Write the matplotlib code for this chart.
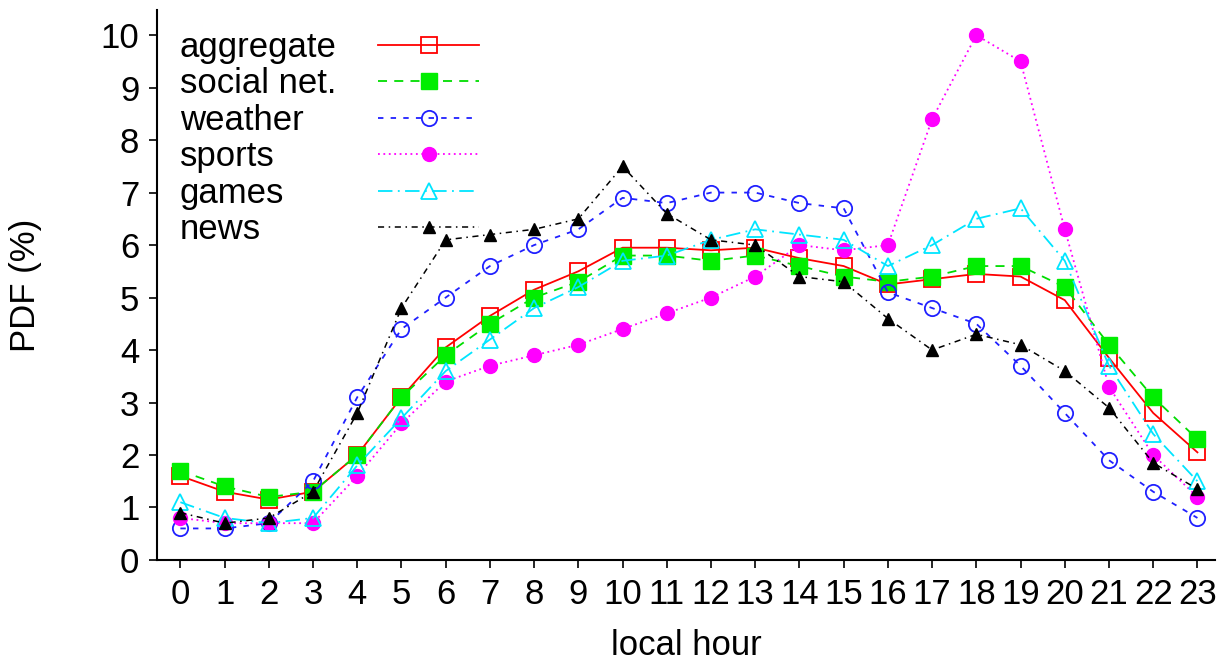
import matplotlib
matplotlib.use("Agg")
import matplotlib.pyplot as plt
from matplotlib.lines import Line2D

plt.rcParams["font.family"] = ["Liberation Sans", "DejaVu Sans"]

hours = list(range(24))
aggregate = [1.6, 1.3, 1.15, 1.3, 2.0, 3.1, 4.05, 4.65, 5.15, 5.5, 5.95, 5.95,
             5.9, 5.95, 5.75, 5.6, 5.25, 5.35, 5.45, 5.4, 4.95, 3.85, 2.8, 2.05]
social = [1.7, 1.4, 1.2, 1.3, 2.0, 3.1, 3.9, 4.5, 5.0, 5.3, 5.8, 5.8,
          5.7, 5.8, 5.6, 5.4, 5.3, 5.4, 5.6, 5.6, 5.2, 4.1, 3.1, 2.3]
weather = [0.6, 0.6, 0.7, 1.5, 3.1, 4.4, 5.0, 5.6, 6.0, 6.3, 6.9, 6.8,
           7.0, 7.0, 6.8, 6.7, 5.1, 4.8, 4.5, 3.7, 2.8, 1.9, 1.3, 0.8]
sports = [0.8, 0.7, 0.7, 0.7, 1.6, 2.6, 3.4, 3.7, 3.9, 4.1, 4.4, 4.7,
          5.0, 5.4, 6.0, 5.9, 6.0, 8.4, 10.0, 9.5, 6.3, 3.3, 2.0, 1.2]
games = [1.1, 0.8, 0.7, 0.8, 1.8, 2.7, 3.6, 4.2, 4.8, 5.2, 5.7, 5.8,
         6.1, 6.3, 6.2, 6.1, 5.6, 6.0, 6.5, 6.7, 5.7, 3.7, 2.4, 1.5]
news = [0.9, 0.7, 0.8, 1.3, 2.8, 4.8, 6.1, 6.2, 6.3, 6.5, 7.5, 6.6,
        6.1, 6.0, 5.4, 5.3, 4.6, 4.0, 4.3, 4.1, 3.6, 2.9, 1.85, 1.35]
labels = ["aggregate", "social net.", "weather", "sports", "games", "news"]

FS = 25

fig = plt.figure(figsize=(12.2, 6.65), dpi=100)
ax = fig.add_axes([0.129, 0.158, 0.867, 0.827])

lines = []
lines += ax.plot(hours, aggregate, color="#ff0000", ls="-", lw=1.3, marker="s", ms=11,
                 mfc="none", mec="#ff0000", mew=1.3)
lines += ax.plot(hours, social, color="#00dd00", ls=(0, (5, 4)), lw=1.3, marker="s", ms=11,
                 mfc="#00ee00", mec="#00ee00")
lines += ax.plot(hours, weather, color="#2020ff", ls=(0, (3, 4)), lw=1.3, marker="o", ms=11,
                 mfc="none", mec="#2020ff", mew=1.3)
lines += ax.plot(hours, sports, color="#ff00ff", ls=(0, (1, 2)), lw=1.3, marker="o", ms=10,
                 mfc="#ff00ff", mec="#ff00ff")
lines += ax.plot(hours, games, color="#00e5ff", ls=(0, (8, 3, 1, 3)), lw=1.3, marker="^", ms=11,
                 mfc="none", mec="#00e5ff", mew=1.3)
lines += ax.plot(hours, news, color="black", ls=(0, (4, 3, 1, 3)), lw=1.1, marker="^", ms=9,
                 mfc="black", mec="black")

ax.set_xlim(-0.52, 23.4)
ax.set_ylim(0, 10.48)
ax.set_xticks(hours)
ax.set_yticks(range(11))
ax.tick_params(labelsize=FS, width=1.2, length=6, direction="out", pad=7)
ax.spines["top"].set_visible(False)
ax.spines["right"].set_visible(False)
ax.spines["left"].set_linewidth(1.5)
ax.spines["bottom"].set_linewidth(1.5)
ax.set_xlabel("local hour", fontsize=FS, labelpad=13)
ax.set_ylabel("PDF (%)", fontsize=FS, labelpad=42)

# legend: labels on the left, samples in a column to the right
blank = [Line2D([], [], ls="none", marker="") for _ in labels]
leg_txt = ax.legend(blank, labels, loc="upper left", bbox_to_anchor=(0.021, 0.962),
                    frameon=False, fontsize=FS, handlelength=0, handletextpad=0,
                    labelspacing=0.1, borderpad=0, borderaxespad=0)
ax.add_artist(leg_txt)
ax.legend(lines, [""] * len(lines), loc="upper left", bbox_to_anchor=(0.209, 0.962),
          frameon=False, fontsize=FS, handlelength=2.9, handletextpad=0,
          labelspacing=0.1, borderpad=0, borderaxespad=0)

fig.savefig("out.png", dpi=100)
